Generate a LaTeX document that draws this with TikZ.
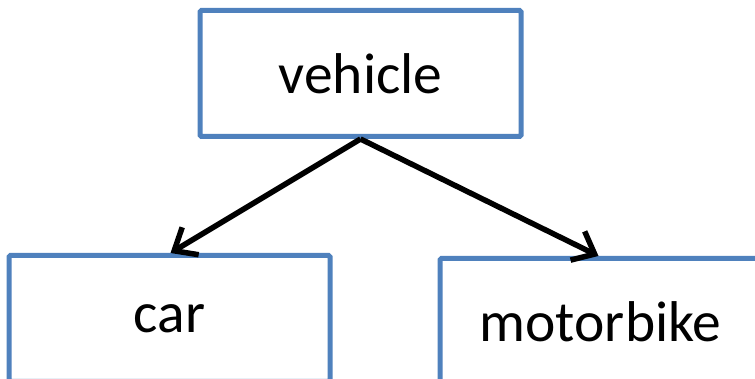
\documentclass[tikz,border=0pt]{standalone}
\usepackage{fontspec}
\setmainfont{Carlito}
\definecolor{BoxBlue}{HTML}{4F81BD}
\usetikzlibrary{positioning,arrows.meta}

\begin{document}
\begin{tikzpicture}[x=1pt, y=1pt, font=\fontsize{57.5}{60}\selectfont,
    classbox/.style={draw=BoxBlue, line width=5pt, rounded corners=1.5pt, fill=white,
      minimum width=321pt, minimum height=126pt, inner sep=0pt},
    inherit/.style={-{Straight Barb[length=19pt, width=32pt, line width=5.5pt]}, line width=5.5pt}]
      \useasboundingbox (0,0) rectangle (755,379);
      \node[classbox] (vehicle) at (360.5,305.5) {vehicle};
      \node[classbox, below=114pt of vehicle, xshift=-191pt] (car) {car};
      \node[classbox, below=117pt of vehicle, xshift=240pt] (motorbike) {motorbike};
      \draw[inherit] (vehicle.south) -- ([xshift=1pt]car.north);
      \draw[inherit] (vehicle.south) -- ([xshift=-2pt]motorbike.north);
    \end{tikzpicture}
\end{document}
